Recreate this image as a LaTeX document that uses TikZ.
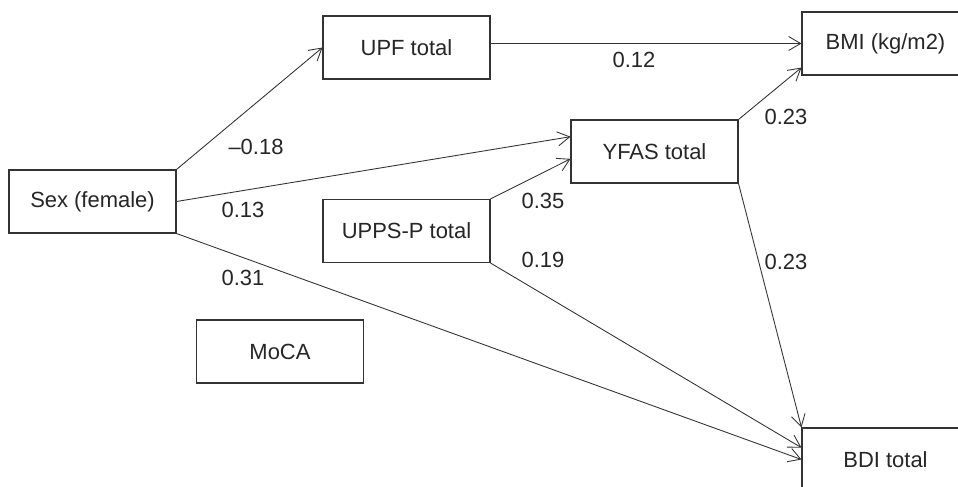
\documentclass[tikz,border=0pt]{standalone}
\usepackage{fontspec}
\setmainfont{Liberation Sans}
\usepackage{tikz}
\usetikzlibrary{arrows.meta}
\tikzset{
  var/.style={rectangle, draw=black!80, line width=0.6pt, fill=white,
              minimum width=3.34cm, minimum height=1.26cm, inner sep=0pt,
              font=\fontsize{12.5}{15}\selectfont, text=black!85},
  flow/.style={-{Straight Barb[length=2.4mm, width=2.8mm]}, draw=black!80, line width=0.5pt},
  coef/.style={font=\fontsize{12.5}{15}\selectfont, text=black!85, inner sep=0pt},
}

\begin{document}
\begin{tikzpicture}[x=0.02cm, y=-0.02cm]
  \useasboundingbox (0,0) rectangle (958,487);
  \clip (0,0) rectangle (958,487);
  % variables
  \node[var] (sex)  at (92.5,201.5) {Sex (female)};
  \node[var] (upf)  at (406.5,47.5) {UPF total};
  \node[var] (upps) at (406.5,231)  {UPPS-P total};
  \node[var] (moca) at (280,351.5)  {MoCA};
  \node[var] (yfas) at (654.5,151.5) {YFAS total};
  \node[var] (bmi)  at (885.5,43.5) {BMI (kg/m2)};
  \node[var] (bdi)  at (885.5,459.5) {BDI total};
  % paths
  \draw[flow] (sex.north east) -- (upf.west);
  \draw[flow] (sex.east) -- (yfas.170);
  \draw[flow] (sex.south east) -- (bdi.west);
  \draw[flow] (upf.east |- bmi.west) -- (bmi.west);
  \draw[flow] (upps.north east) -- (yfas.185);
  \draw[flow] (upps.south east) -- (bdi.172);
  \draw[flow] (yfas.north east) -- (bmi.196);
  \draw[flow] (yfas.south east) -- (bdi.north west);
  % coefficients
  \node[coef] (c1) at (256,147) {–0.18};
  \node[coef] (c2) at (243,210) {0.13};
  \node[coef] (c3) at (243,278) {0.31};
  \node[coef] (c4) at (634,60)  {0.12};
  \node[coef] (c5) at (786,117) {0.23};
  \node[coef] (c6) at (543,201) {0.35};
  \node[coef] (c7) at (543,260) {0.19};
  \node[coef] (c8) at (786,262) {0.23};
\end{tikzpicture}
\end{document}
